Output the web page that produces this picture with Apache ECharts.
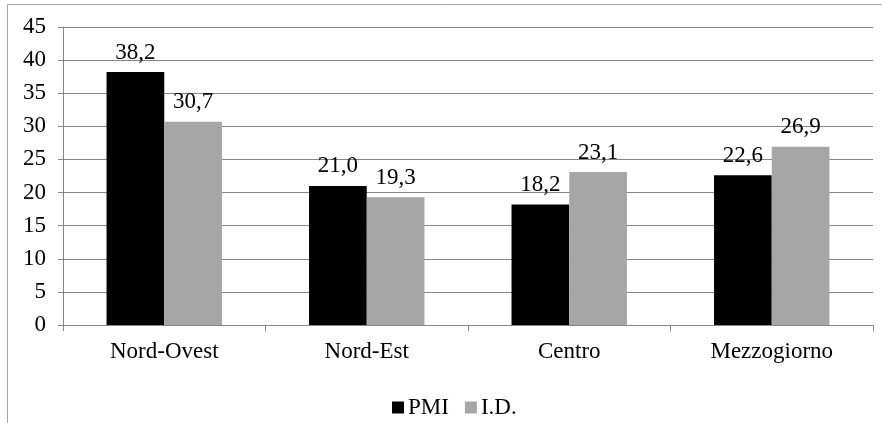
<!DOCTYPE html>
<html>
<head>
<meta charset="utf-8">
<script src="https://cdn.jsdelivr.net/npm/echarts@6/dist/echarts.min.js"></script>
<style>
html,body{margin:0;padding:0;background:#fff;}
#c{width:882px;height:423px;}
</style>
</head>
<body>
<div id="c"></div>
<script>
var categories = ['Nord-Ovest', 'Nord-Est', 'Centro', 'Mezzogiorno'];
var pmiValues = [38.2, 21.0, 18.2, 22.6];
var idValues = [30.7, 19.3, 23.1, 26.9];
var seriesNames = ['PMI', 'I.D.'];

var chart = echarts.init(document.getElementById('c'), null, {renderer: 'canvas'});
var font = 'Liberation Serif';
function fmt(p){ return p.value.toFixed(1).replace('.', ','); }
chart.setOption({
  animation: false,
  backgroundColor: '#fff',
  textStyle: {fontFamily: font},
  graphic: [{
    type: 'rect',
    shape: {x: 7.5, y: 4.5, width: 900, height: 440},
    style: {fill: 'none', stroke: '#a6a6a6', lineWidth: 1},
    silent: true
  }],
  grid: {left: 63, right: 9, top: 27, bottom: 98, containLabel: false},
  legend: {
    left: 387, top: 391,
    itemWidth: 12, itemHeight: 12, itemGap: 16,
    icon: 'rect',
    textStyle: {fontFamily: font, fontSize: 23, color: '#000', padding: [0,0,0,-1]},
    data: seriesNames
  },
  xAxis: {
    type: 'category',
    data: categories,
    axisLine: {lineStyle: {color: '#868686', width: 1}},
    axisTick: {show: true, length: 6, lineStyle: {color: '#868686'}},
    axisLabel: {fontFamily: font, fontSize: 23, color: '#000', margin: 15}
  },
  yAxis: {
    type: 'value',
    min: 0, max: 45, interval: 5,
    axisLine: {show: true, lineStyle: {color: '#868686', width: 1}},
    axisTick: {show: true, length: 5, lineStyle: {color: '#868686'}},
    splitLine: {lineStyle: {color: '#868686', width: 1}},
    axisLabel: {fontFamily: font, fontSize: 23, color: '#000', margin: 17}
  },
  series: [{
    name: seriesNames[0], type: 'bar', data: pmiValues,
    itemStyle: {color: '#000000'},
    barGap: '0%', barCategoryGap: '43%',
    label: {show: true, position: 'top', formatter: fmt, fontFamily: font, fontSize: 23, color: '#000', distance: 8}
  }, {
    name: seriesNames[1], type: 'bar', data: idValues,
    itemStyle: {color: '#a6a6a6'},
    barGap: '0%', barCategoryGap: '43%',
    label: {show: true, position: 'top', formatter: fmt, fontFamily: font, fontSize: 23, color: '#000', distance: 8}
  }]
});
</script>
</body>
</html>
